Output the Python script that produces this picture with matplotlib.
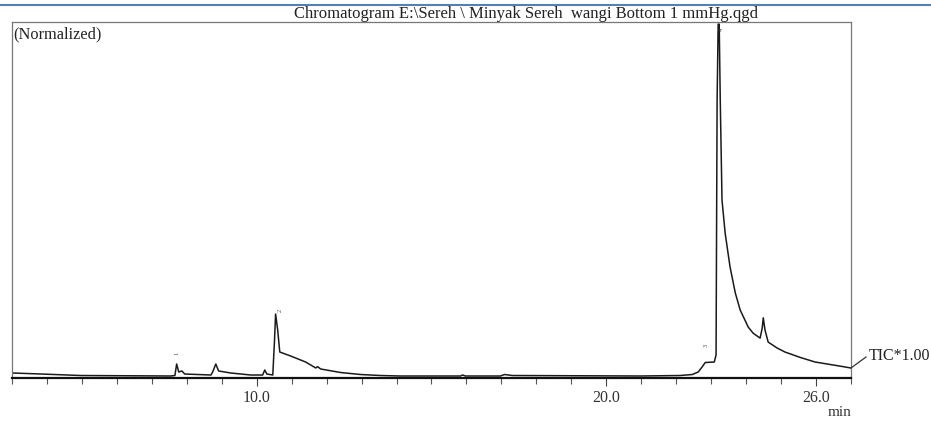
import matplotlib
matplotlib.use("Agg")
import matplotlib.pyplot as plt
from matplotlib.lines import Line2D

# Retention time (min) and normalized intensity (%)
time_min = [3.03, 3.83, 4.97, 7.54, 7.66, 7.71, 7.77, 7.86, 7.94, 8.69, 8.74, 8.83, 8.91,
            9.26, 9.83, 10.17, 10.23, 10.29, 10.46, 10.51, 10.54, 10.60, 10.66, 10.97,
            11.40, 11.69, 11.74, 11.83, 12.40, 12.97, 13.54, 14.11, 15.83, 15.89, 15.97,
            16.97, 17.09, 17.31, 20.97, 22.11, 22.46, 22.63, 22.74, 22.83, 23.09, 23.14,
            23.17, 23.20, 23.23, 23.26, 23.31, 23.40, 23.54, 23.69, 23.83, 24.06, 24.20,
            24.40, 24.46, 24.49, 24.54, 24.63, 24.89, 25.11, 25.54, 25.97, 26.40, 26.83, 27.00]
intensity = [1.40, 1.12, 0.70, 0.56, 0.70, 3.93, 1.69, 1.97, 1.12, 0.84, 1.69, 3.93, 1.97,
             1.40, 0.84, 0.84, 2.25, 1.12, 0.84, 10.7, 17.98, 13.5, 7.30, 6.18,
             4.49, 2.81, 3.20, 2.53, 1.54, 0.98, 0.70, 0.56, 0.56, 0.84, 0.56,
             0.56, 0.98, 0.70, 0.56, 0.70, 0.98, 1.69, 3.09, 4.35, 4.49, 6.46,
             78.0, 99.4, 99.4, 78.0, 50.0, 40.7, 31.2, 23.9, 19.1, 14.3, 12.6,
             11.2, 14.0, 16.9, 13.5, 10.1, 8.4, 7.3, 5.8, 4.5, 3.8, 3.1, 2.8]

tick_values = [10.0, 20.0, 26.0]
tick_labels = ["10.0", "20.0", "26.0"]

peak_ids = ["1", "2", "3", "4"]
peak_times = [7.71, 10.66, 22.86, 23.30]
peak_label_y = [6.4, 18.6, 8.6, 97.6]

title = "Chromatogram E:\\Sereh \\ Minyak Sereh  wangi Bottom 1 mmHg.qgd"

plt.rcParams['font.family'] = ['Liberation Serif', 'DejaVu Serif']

fig = plt.figure(figsize=(9.31, 4.25), dpi=100)
ax = fig.add_axes([12/931, 1-378/425, (851-12)/931, (378-22)/425])

ax.plot(time_min, intensity, color="#1a1a1a", lw=1.1)
ax.set_xlim(3.0, 27.0)
ax.set_ylim(0, 100)

ax.set_yticks([])
ax.set_xticks([t for t in range(3, 28)], minor=True)
ax.set_xticks(tick_values)
ax.set_xticklabels(tick_labels, fontsize=11.5, color="#333333")
ax.tick_params(axis="x", which="major", direction="out", length=6, width=0.8, pad=3, color="#444444")
ax.tick_params(axis="x", which="minor", direction="out", length=4, width=0.8, color="#555555")

for side in ["left", "top", "right"]:
    ax.spines[side].set_color("#777777")
    ax.spines[side].set_linewidth(0.9)
ax.spines["bottom"].set_color("#111111")
ax.spines["bottom"].set_linewidth(1.6)

ax.text(0.002, 0.988, "(Normalized)", transform=ax.transAxes, ha="left", va="top",
        fontsize=11.8, color="#222222")

for pid, pt, py in zip(peak_ids, peak_times, peak_label_y):
    ax.text(pt, py, pid, rotation=90, fontsize=4.5, ha="center", va="bottom", color="#444444")

fig.text(526/931, 1-14/425, title, ha="center", va="center", fontsize=12, color="#222222")

# TIC label with leader line
fig.add_artist(Line2D([851/931, 866/931], [1-368/425, 1-357/425], color="#333333", lw=0.9))
fig.text(869/931, 1-356/425, "TIC*1.00", ha="left", va="center", fontsize=11.5, color="#222222")
fig.text(840/931, 1-413/425, "min", ha="center", va="center", fontsize=11, color="#333333")

# blue document border at top
fig.add_artist(Line2D([0, 1], [1-5/425, 1-5/425], color="#4f81bd", lw=1.5))

fig.savefig("out.png", dpi=100)
